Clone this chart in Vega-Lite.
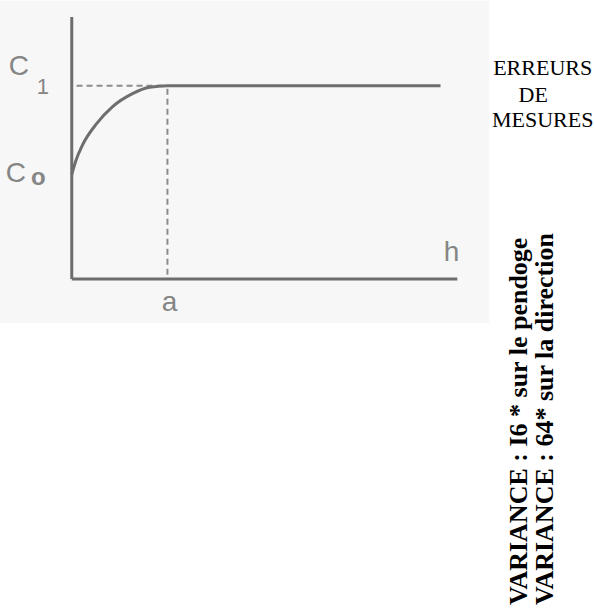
{
  "$schema": "https://vega.github.io/schema/vega-lite/v6.json",
  "width": 594,
  "height": 608,
  "padding": 0,
  "autosize": {"type": "fit", "contains": "padding"},
  "background": "white",
  "config": {"view": {"stroke": null}},
  "datasets": {
    "bg": [{"x1": -0.75, "x2": 4.365, "y1": 1.44, "y2": -0.227}],
    "axes": [
      {"x1": 0, "y1": 0, "x2": 0, "y2": 1.356},
      {"x1": 0, "y1": 0, "x2": 4.03, "y2": 0}
    ],
    "dashes": [
      {"x1": 0.05, "y1": 1, "x2": 0.97, "y2": 1},
      {"x1": 1, "y1": 0.985, "x2": 1, "y2": 0}
    ],
    "curve": [
      {"h": 0.0, "c": 0.541},
      {"h": 0.04, "c": 0.608},
      {"h": 0.115, "c": 0.696},
      {"h": 0.26, "c": 0.804},
      {"h": 0.427, "c": 0.892},
      {"h": 0.635, "c": 0.959},
      {"h": 0.813, "c": 0.992},
      {"h": 1.0, "c": 1.0},
      {"h": 3.854, "c": 1.0}
    ],
    "bigLabels": [
      {"x": -0.552, "y": 1.098, "t": "C"},
      {"x": -0.583, "y": 0.546, "t": "C"},
      {"x": 1.021, "y": -0.124, "t": "a"},
      {"x": 3.969, "y": 0.134, "t": "h"}
    ],
    "subOne": [
      {"x": -0.302, "y": 0.995, "t": "1"}
    ],
    "subO": [
      {"x": -0.349, "y": 0.523, "t": "o"}
    ],
    "notes": [
      {"x": 4.922, "y": 1.0567, "t": "ERREURS"},
      {"x": 4.823, "y": 0.9175, "t": "DE"},
      {"x": 4.922, "y": 0.7887, "t": "MESURES"}
    ],
    "variance": [
      {"x": 4.76, "y": -1.6856, "t": "VARIANCE : I6 * sur le pendoge"},
      {"x": 5.031, "y": -1.6856, "t": "VARIANCE : 64* sur la direction"}
    ]
  },
  "encoding": {
    "x": {"type": "quantitative", "scale": {"domain": [-0.75, 5.4375], "nice": false, "zero": false}, "axis": null},
    "y": {"type": "quantitative", "scale": {"domain": [-1.701, 1.433], "nice": false, "zero": false}, "axis": null}
  },
  "layer": [
    {
      "data": {"name": "bg"},
      "mark": {"type": "rect", "fill": "#f7f7f7"},
      "encoding": {
        "x": {"field": "x1", "type": "quantitative"},
        "x2": {"field": "x2"},
        "y": {"field": "y1", "type": "quantitative"},
        "y2": {"field": "y2"}
      }
    },
    {
      "data": {"name": "dashes"},
      "mark": {"type": "rule", "stroke": "#8c8c8c", "strokeWidth": 2, "strokeDash": [6, 4]},
      "encoding": {
        "x": {"field": "x1", "type": "quantitative"},
        "x2": {"field": "x2"},
        "y": {"field": "y1", "type": "quantitative"},
        "y2": {"field": "y2"}
      }
    },
    {
      "data": {"name": "axes"},
      "mark": {"type": "rule", "stroke": "#6e6e6e", "strokeWidth": 3},
      "encoding": {
        "x": {"field": "x1", "type": "quantitative"},
        "x2": {"field": "x2"},
        "y": {"field": "y1", "type": "quantitative"},
        "y2": {"field": "y2"}
      }
    },
    {
      "data": {"name": "curve"},
      "mark": {"type": "line", "stroke": "#6e6e6e", "strokeWidth": 3, "interpolate": "monotone"},
      "encoding": {
        "x": {"field": "h", "type": "quantitative"},
        "y": {"field": "c", "type": "quantitative"}
      }
    },
    {
      "data": {"name": "bigLabels"},
      "mark": {"type": "text", "font": "Liberation Sans", "fontSize": 28, "fill": "#858585", "align": "center", "baseline": "middle"},
      "encoding": {
        "x": {"field": "x", "type": "quantitative"},
        "y": {"field": "y", "type": "quantitative"},
        "text": {"field": "t"}
      }
    },
    {
      "data": {"name": "subOne"},
      "mark": {"type": "text", "font": "Liberation Sans", "fontSize": 22, "fill": "#858585", "align": "center", "baseline": "middle"},
      "encoding": {
        "x": {"field": "x", "type": "quantitative"},
        "y": {"field": "y", "type": "quantitative"},
        "text": {"field": "t"}
      }
    },
    {
      "data": {"name": "subO"},
      "mark": {"type": "text", "font": "Liberation Sans", "fontSize": 24, "fontWeight": "bold", "fill": "#858585", "align": "center", "baseline": "middle"},
      "encoding": {
        "x": {"field": "x", "type": "quantitative"},
        "y": {"field": "y", "type": "quantitative"},
        "text": {"field": "t"}
      }
    },
    {
      "data": {"name": "notes"},
      "mark": {"type": "text", "font": "Liberation Serif", "fontSize": 22, "fill": "black", "align": "center", "baseline": "alphabetic"},
      "encoding": {
        "x": {"field": "x", "type": "quantitative"},
        "y": {"field": "y", "type": "quantitative"},
        "text": {"field": "t"}
      }
    },
    {
      "data": {"name": "variance"},
      "mark": {"type": "text", "font": "Liberation Serif", "fontSize": 26, "fontWeight": "bold", "fill": "black", "align": "left", "baseline": "alphabetic", "angle": 270},
      "encoding": {
        "x": {"field": "x", "type": "quantitative"},
        "y": {"field": "y", "type": "quantitative"},
        "text": {"field": "t"}
      }
    }
  ]
}
